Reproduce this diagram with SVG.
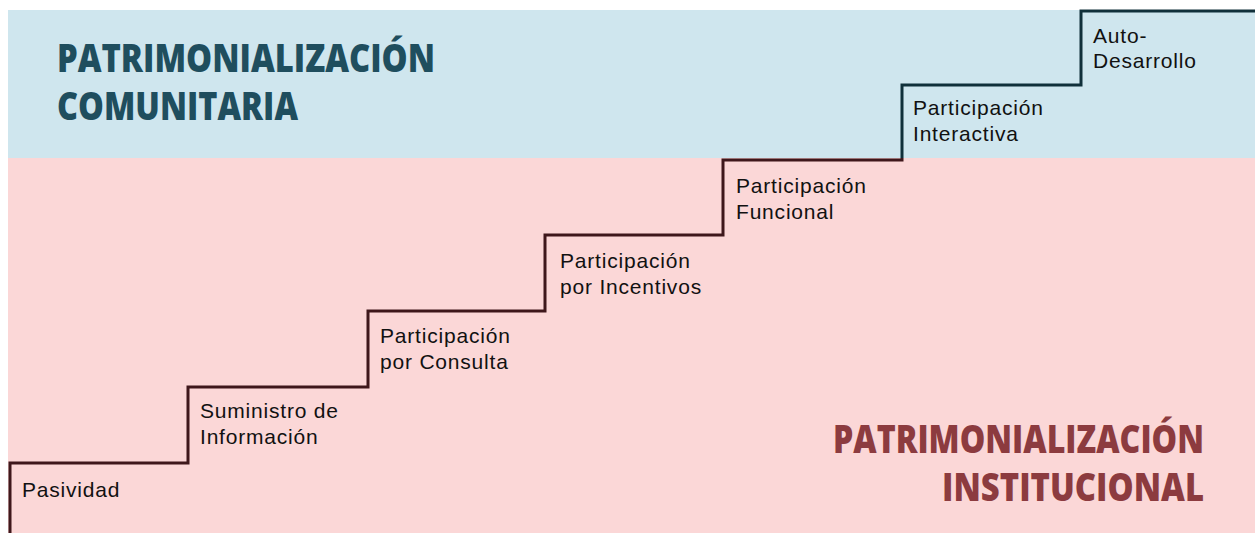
<svg xmlns="http://www.w3.org/2000/svg" width="1255" height="533" viewBox="0 0 1255 533">
<style>
.title{font-family:"Open Sans","Inter",sans-serif;font-weight:800;font-size:38px}
.t-blue{fill:#1f4e5e}
.t-red{fill:#8c3b3f;text-anchor:end}
.lbl{font-family:"Liberation Sans",Arial,sans-serif;font-size:21px;fill:#111;letter-spacing:0.8px}
.stair{fill:none;stroke-width:3;stroke-linejoin:miter}
</style>
<defs>
<clipPath id="clipBlue"><rect x="0" y="0" width="1255" height="158"/></clipPath>
<clipPath id="clipPink"><rect x="0" y="158" width="1255" height="375"/></clipPath>
</defs>
<rect x="0" y="0" width="1255" height="533" fill="#ffffff"/>
<rect x="8" y="10" width="1247" height="148" fill="#cfe6ee"/>
<rect x="8" y="158" width="1247" height="375" fill="#fbd7d7"/>
<g id="titles">
<text class="title t-blue" x="57" y="72" textLength="378" lengthAdjust="spacingAndGlyphs">PATRIMONIALIZACIÓN</text>
<text class="title t-blue" x="57" y="120" textLength="241" lengthAdjust="spacingAndGlyphs">COMUNITARIA</text>
<text class="title t-red" x="1204" y="453" textLength="371" lengthAdjust="spacingAndGlyphs">PATRIMONIALIZACIÓN</text>
<text class="title t-red" x="1204" y="501" textLength="262" lengthAdjust="spacingAndGlyphs">INSTITUCIONAL</text>
</g>
<g id="connectors">
<path class="stair" clip-path="url(#clipPink)" stroke="#3e171b" d="M10,533 V463 H188 V387 H368 V311 H545 V235 H723 V160 H902 V85 H1081 V11 H1255"/>
<path class="stair" clip-path="url(#clipBlue)" stroke="#10303a" d="M10,533 V463 H188 V387 H368 V311 H545 V235 H723 V160 H902 V85 H1081 V11 H1255"/>
</g>
<g id="step-pasividad"><text class="lbl" x="22" y="497">Pasividad</text></g>
<g id="step-suministro"><text class="lbl" x="200" y="418">Suministro de</text><text class="lbl" x="200" y="444">Información</text></g>
<g id="step-consulta"><text class="lbl" x="380" y="343">Participación</text><text class="lbl" x="380" y="369">por Consulta</text></g>
<g id="step-incentivos"><text class="lbl" x="560" y="268">Participación</text><text class="lbl" x="560" y="294">por Incentivos</text></g>
<g id="step-funcional"><text class="lbl" x="736" y="193">Participación</text><text class="lbl" x="736" y="219">Funcional</text></g>
<g id="step-interactiva"><text class="lbl" x="913" y="115">Participación</text><text class="lbl" x="913" y="141">Interactiva</text></g>
<g id="step-auto"><text class="lbl" x="1093" y="43">Auto-</text><text class="lbl" x="1093" y="68">Desarrollo</text></g>
</svg>
